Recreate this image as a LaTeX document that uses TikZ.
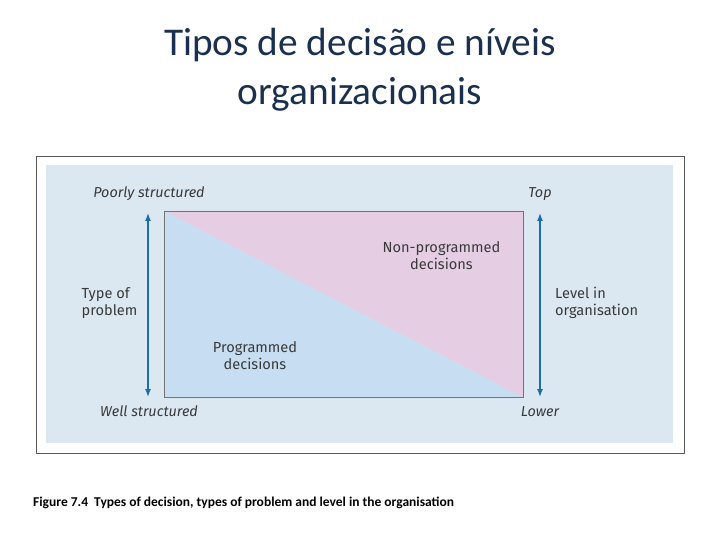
\documentclass[tikz,border=0pt]{standalone}
\usepackage{fontspec}
\setmainfont{Carlito}
\newfontfamily\dinfont{Fira Sans}
\usetikzlibrary{arrows.meta}
\definecolor{panel}{HTML}{DCE8F1}
\definecolor{bluefill}{HTML}{C7DEF2}
\definecolor{pinkfill}{HTML}{E5CDE4}
\definecolor{arrowcol}{HTML}{1A6FA8}
\definecolor{labelcol}{HTML}{3A3A3A}
\definecolor{titlecol}{HTML}{1B2F4E}
\tikzset{
  lbl/.style={font=\dinfont\fontsize{14.6}{17}\selectfont, text=labelcol, inner sep=0pt},
  ilbl/.style={lbl, font=\dinfont\itshape\fontsize{14.4}{17}\selectfont},
  axis/.style={draw=arrowcol, line width=1.3pt, {Latex[length=8pt,width=6pt]}-{Latex[length=8pt,width=6pt]}}
}
\begin{document}
\begin{tikzpicture}[x=1pt,y=-1pt]
\useasboundingbox (0,0) rectangle (720,540);
\fill[white] (0,0) rectangle (720,540);
% title
\node[font=\fontsize{39.3}{49}\selectfont, text=titlecol, align=center, inner sep=0pt] (title) at (360,70) {Tipos de decisão e níveis\\organizacionais};
% frame
\draw[draw=black!65, line width=0.8pt] (36,156) rectangle (684,453);
\fill[panel] (46,165) rectangle (673,443);
% main rectangle
\coordinate (tl) at (164.5,211);
\coordinate (tr) at (523.5,211);
\coordinate (br) at (523.5,397.5);
\coordinate (bl) at (164.5,397.5);
\fill[bluefill] (tl) -- (br) -- (bl) -- cycle;
\fill[pinkfill] (tl) -- (tr) -- (br) -- cycle;
\draw[draw=black!55, line width=0.6pt] (tl) rectangle (br);
% labels
\node[ilbl] (poor) at (149,194) {Poorly structured};
\node[ilbl] (well) at (149,411.5) {Well structured};
\node[ilbl] (top) at (540,194) {Top};
\node[ilbl] (lower) at (540,411.5) {Lower};
\node[lbl, align=left, anchor=west] (type) at (81.5,303) {Type of\\problem};
\node[lbl, align=left, anchor=west] (level) at (555,302.5) {Level in\\organisation};
\node[lbl, align=center] (nonprog) at (441.5,255.5) {Non-programmed\\decisions};
\node[lbl, align=center] (prog) at (255,355.5) {Programmed\\decisions};
% axes
\coordinate (la) at (148,213);
\coordinate (lb) at (148,397);
\coordinate (ra) at (540,213);
\coordinate (rb) at (540,397);
\draw[axis] (la) -- (lb);
\draw[axis] (ra) -- (rb);
% caption
\node[font=\bfseries\fontsize{13.5}{15}\selectfont, anchor=west, inner sep=0pt] (cap) at (33,503) {Figure 7.4\ \ Types of decision, types of problem and level in the organisation};
\end{tikzpicture}
\end{document}
